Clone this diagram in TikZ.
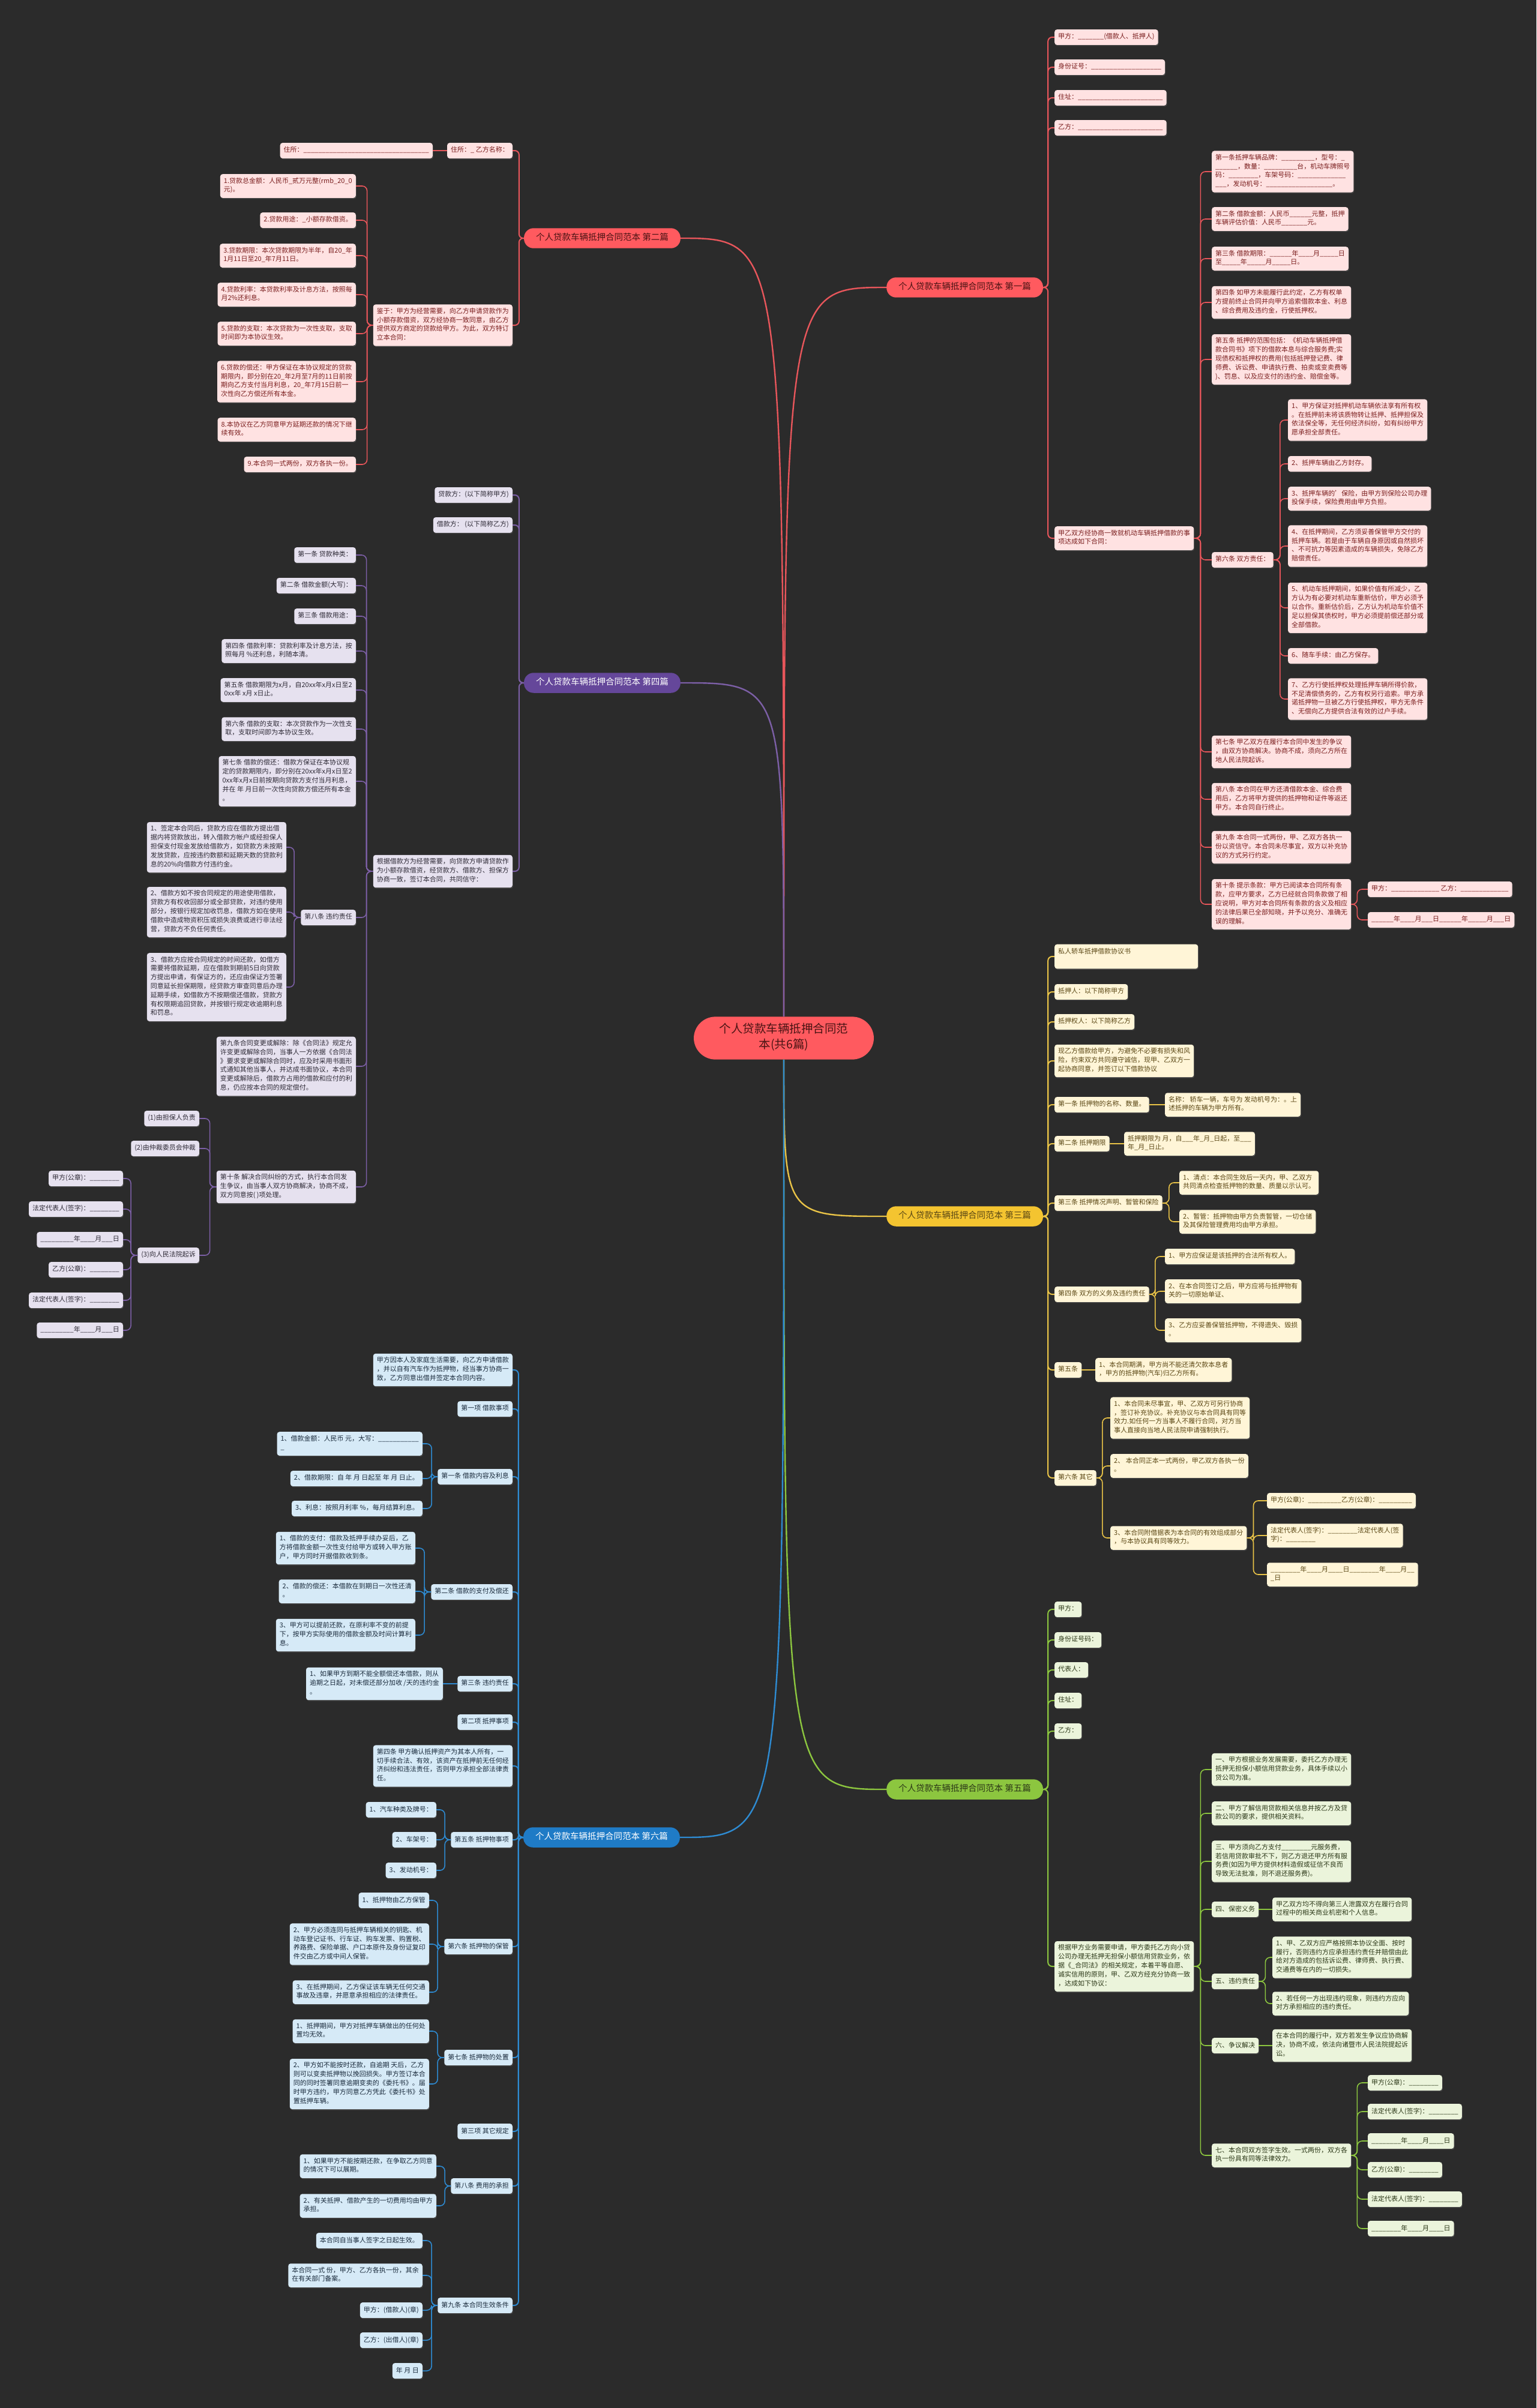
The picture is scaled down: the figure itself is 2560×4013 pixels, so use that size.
\documentclass[tikz,border=0pt]{standalone}
\usepackage{fontspec}
\setmainfont{Noto Sans CJK SC}
\usepackage{tikz}
\usetikzlibrary{shadows,calc}
\usepackage{xcolor}
\definecolor{canvas}{HTML}{2B2B2B}
\definecolor{headtext}{HTML}{4A1414}
\definecolor{rosefill}{HTML}{FFE2E2}
\definecolor{rosetext}{HTML}{7A1E1E}
\definecolor{roseline}{HTML}{E8565B}
\definecolor{rosehead}{HTML}{FF5A5F}
\definecolor{plumfill}{HTML}{E6E1EF}
\definecolor{plumtext}{HTML}{2E2A36}
\definecolor{plumline}{HTML}{7C5FA6}
\definecolor{plumhead}{HTML}{65479A}
\definecolor{amberfill}{HTML}{FFF5D7}
\definecolor{ambertext}{HTML}{5A4714}
\definecolor{amberline}{HTML}{E9C347}
\definecolor{amberhead}{HTML}{F4C430}
\definecolor{sagefill}{HTML}{EBF4DB}
\definecolor{sagetext}{HTML}{2C3818}
\definecolor{sageline}{HTML}{8CC63F}
\definecolor{sagehead}{HTML}{8CC63F}
\definecolor{skyfill}{HTML}{D6EAF7}
\definecolor{skytext}{HTML}{1A2B3C}
\definecolor{skyline}{HTML}{2E8BD2}
\definecolor{skyhead}{HTML}{1F7BC6}
\newcommand\blank[1]{\foreach\bi in {1,...,#1}{\_}}

\begin{document}
\begin{tikzpicture}[
  x=1pt, y=-1pt,
  box/.style={font=\fontsize{11}{14.8}\selectfont, align=left, rounded corners=4pt,
    inner xsep=6pt, inner ysep=5.5pt,
    execute at begin node=\strut, execute at end node=\strut,
    drop shadow={opacity=0.35, shadow xshift=1pt, shadow yshift=-1.5pt}},
  leaf/.style={box, fill=#1fill, text=#1text},
  head/.style={font=\fontsize{14.5}{17.4}\selectfont, rounded corners=16pt,
    inner xsep=20pt, inner ysep=8pt, fill=#1head,
    execute at begin node=\strut, execute at end node=\strut},
  lnk/.style={draw=#1line, line width=1.6pt, rounded corners=8pt},
  trunk/.style={draw=#1line, line width=2pt, rounded corners=7pt},
  stem/.style={draw=#1line, line width=2.4pt},
]
\useasboundingbox (0,0) rectangle (2560,4013);
\fill[canvas] (0,0) rectangle (2560,4013);

% Center
\node[head=rose, text=headtext, font=\fontsize{19.5}{26}\selectfont, align=center,
  rounded corners=36pt, minimum width=300pt, inner ysep=10.5pt] (ctr) at (1306,1730)
  {个人贷款车辆抵押合同范\\本(共6篇)};

% Part one
\node[head=rose, text=headtext, anchor=west] (b1) at (1477,479) {个人贷款车辆抵押合同范本 第一篇};
\node[leaf=rose, anchor=west] (r1) at (1757,62) {甲方：\blank{7}(借款人、抵押人)};
\node[leaf=rose, anchor=west] (r2) at (1757,112) {身份证号：\blank{19}};
\node[leaf=rose, anchor=west] (r3) at (1757,163) {住址：\blank{23}};
\node[leaf=rose, anchor=west] (r4) at (1757,213) {乙方：\blank{23}};
\node[leaf=rose, anchor=west] (r5) at (1757,897) {甲乙双方经协商一致就机动车辆抵押借款的事\\项达成如下合同：};
\node[leaf=rose, anchor=west] (r51) at (2019,286) {第一条抵押车辆品牌：\blank{9}，型号：\blank{1}\\\blank{6}，数量：\blank{9}台，机动车牌照号\\码：\blank{8}，车架号码：\blank{13}\\\blank{3}，发动机号：\blank{18}。};
\node[leaf=rose, anchor=west] (r52) at (2019,365) {第二条 借款金额：人民币\blank{6}元整，抵押\\车辆评估价值：人民币\blank{7}元。};
\node[leaf=rose, anchor=west] (r53) at (2019,431) {第三条 借款期限：\blank{6}年\blank{4}月\blank{5}日\\至\blank{5}年\blank{5}月\blank{5}日。};
\node[leaf=rose, anchor=west] (r54) at (2019,504) {第四条 如甲方未能履行此约定，乙方有权单\\方提前终止合同并向甲方追索借款本金、利息\\、综合费用及违约金，行使抵押权。};
\node[leaf=rose, anchor=west] (r55) at (2019,599) {第五条 抵押的范围包括：《机动车辆抵押借\\款合同书》项下的借款本息与综合服务费;实\\现债权和抵押权的费用(包括抵押登记费、律\\师费、诉讼费、申请执行费、拍卖或变卖费等\\)、罚息、以及应支付的违约金、赔偿金等。};
\node[leaf=rose, anchor=west] (r56) at (2019,933) {第六条 双方责任：};
\node[leaf=rose, anchor=west] (r57) at (2019,1253) {第七条 甲乙双方在履行本合同中发生的争议\\，由双方协商解决。协商不成，须向乙方所在\\地人民法院起诉。};
\node[leaf=rose, anchor=west] (r58) at (2019,1332) {第八条 本合同在甲方还清借款本金、综合费\\用后，乙方将甲方提供的抵押物和证件等返还\\甲方。本合同自行终止。};
\node[leaf=rose, anchor=west] (r59) at (2019,1412) {第九条 本合同一式两份，甲、乙双方各执一\\份以资信守。本合同未尽事宜，双方以补充协\\议的方式另行约定。};
\node[leaf=rose, anchor=west] (r510) at (2019,1507) {第十条 提示条款：甲方已阅读本合同所有条\\款，应甲方要求，乙方已经就合同条款做了相\\应说明，甲方对本合同所有条款的含义及相应\\的法律后果已全部知晓，并予以充分、准确无\\误的理解。};
\node[leaf=rose, anchor=west] (r561) at (2146,700) {1、甲方保证对抵押机动车辆依法享有所有权\\。在抵押前未将该质物转让抵押、抵押担保及\\依法保全等，无任何经济纠纷，如有纠纷甲方\\愿承担全部责任。};
\node[leaf=rose, anchor=west] (r562) at (2146,773) {2、抵押车辆由乙方封存。};
\node[leaf=rose, anchor=west] (r563) at (2146,831) {3、抵押车辆的'保险，由甲方到保险公司办理\\投保手续，保险费用由甲方负担。};
\node[leaf=rose, anchor=west] (r564) at (2146,910) {4、在抵押期间，乙方须妥善保管甲方交付的\\抵押车辆。若是由于车辆自身原因或自然损坏\\、不可抗力等因素造成的车辆损失，免除乙方\\赔偿责任。};
\node[leaf=rose, anchor=west] (r565) at (2146,1013) {5、机动车抵押期间，如果价值有所减少，乙\\方认为有必要对机动车重新估价，甲方必须予\\以合作。重新估价后，乙方认为机动车价值不\\足以担保其债权时，甲方必须提前偿还部分或\\全部借款。};
\node[leaf=rose, anchor=west] (r566) at (2146,1093) {6、随车手续：由乙方保存。};
\node[leaf=rose, anchor=west] (r567) at (2146,1165) {7、乙方行使抵押权处理抵押车辆所得价款，\\不足清偿债务的，乙方有权另行追索。甲方承\\诺抵押物一旦被乙方行使抵押权，甲方无条件\\、无偿向乙方提供合法有效的过户手续。};
\node[leaf=rose, anchor=west] (r5101) at (2279,1482) {甲方：\blank{13} 乙方：\blank{13}};
\node[leaf=rose, anchor=west] (r5102) at (2279,1533) {\blank{6}年\blank{4}月\blank{3}日\blank{6}年\blank{5}月\blank{3}日};

% Part two
\node[head=rose, text=headtext, anchor=east] (b2) at (1134,397) {个人贷款车辆抵押合同范本 第二篇};
\node[leaf=rose, anchor=east] (l1) at (854,251) {住所：\_ 乙方名称：};
\node[leaf=rose, anchor=east] (l11) at (721,251) {住所：\blank{34}};
\node[leaf=rose, anchor=east] (l2) at (854,542) {鉴于：甲方为经营需要，向乙方申请贷款作为\\小额存款借资，双方经协商一致同意，由乙方\\提供双方商定的贷款给甲方。为此，双方特订\\立本合同：};
\node[leaf=rose, anchor=east] (l21) at (593,310) {1.贷款总金额：人民币\_贰万元整(rmb\_20\_0\\元)。};
\node[leaf=rose, anchor=east] (l22) at (593,367) {2.贷款用途：\_小额存款借资。};
\node[leaf=rose, anchor=east] (l23) at (593,426) {3.贷款期限：本次贷款期限为半年，自20\_年\\1月11日至20\_年7月11日。};
\node[leaf=rose, anchor=east] (l24) at (593,491) {4.贷款利率：本贷款利率及计息方法，按照每\\月2\%还利息。};
\node[leaf=rose, anchor=east] (l25) at (593,556) {5.贷款的支取：本次贷款为一次性支取，支取\\时间即为本协议生效。};
\node[leaf=rose, anchor=east] (l26) at (593,636) {6.贷款的偿还：甲方保证在本协议规定的贷款\\期限内，即分别在20\_年2月至7月的11日前按\\期向乙方支付当月利息，20\_年7月15日前一\\次性向乙方偿还所有本金。};
\node[leaf=rose, anchor=east] (l27) at (593,716) {8.本协议在乙方同意甲方延期还款的情况下继\\续有效。};
\node[leaf=rose, anchor=east] (l28) at (593,774) {9.本合同一式两份，双方各执一份。};

% Part four
\node[head=plum, text=white, anchor=east] (b4) at (1134,1138) {个人贷款车辆抵押合同范本 第四篇};
\node[leaf=plum, anchor=east] (p1) at (854,825) {贷款方：(以下简称甲方)};
\node[leaf=plum, anchor=east] (p2) at (854,875) {借款方： (以下简称乙方)};
\node[leaf=plum, anchor=east] (p3) at (854,1452) {根据借款方为经营需要，向贷款方申请贷款作\\为小额存款借资，经贷款方、借款方、担保方\\协商一致，签订本合同，共同信守：};
\node[leaf=plum, anchor=east] (p31) at (593,925) {第一条 贷款种类：};
\node[leaf=plum, anchor=east] (p32) at (593,976) {第二条 借款金额(大写)：};
\node[leaf=plum, anchor=east] (p33) at (593,1027) {第三条 借款用途：};
\node[leaf=plum, anchor=east] (p34) at (593,1085) {第四条 借款利率：贷款利率及计息方法，按\\照每月 \%还利息，利随本清。};
\node[leaf=plum, anchor=east] (p35) at (593,1150) {第五条 借款期限为x月，自20xx年x月x日至2\\0xx年 x月 x日止。};
\node[leaf=plum, anchor=east] (p36) at (593,1215) {第六条 借款的支取：本次贷款作为一次性支\\取，支取时间即为本协议生效。};
\node[leaf=plum, anchor=east] (p37) at (593,1302) {第七条 借款的偿还：借款方保证在本协议规\\定的贷款期限内，即分别在20xx年x月x日至2\\0xx年x月x日前按期向贷款方支付当月利息，\\并在 年 月日前一次性向贷款方偿还所有本金\\。};
\node[leaf=plum, anchor=east] (p38) at (593,1529) {第八条 违约责任};
\node[leaf=plum, anchor=east] (p39) at (593,1777) {第九条合同变更或解除：除《合同法》规定允\\许变更或解除合同，当事人一方依据《合同法\\》要求变更或解除合同时，应及时采用书面形\\式通知其他当事人，并达成书面协议，本合同\\变更或解除后，借款方占用的借款和应付的利\\息，仍应按本合同的规定偿付。};
\node[leaf=plum, anchor=east] (p310) at (593,1978) {第十条 解决合同纠纷的方式，执行本合同发\\生争议，由当事人双方协商解决，协商不成，\\双方同意按( )项处理。};
\node[leaf=plum, anchor=east] (p381) at (477,1412) {1、签定本合同后，贷款方应在借款方提出借\\据内将贷款放出，转入借款方帐户或经担保人\\担保支付现金发放给借款方，如贷款方未按期\\发放贷款，应按违约数额和延期天数的贷款利\\息的20\%向借款方付违约金。};
\node[leaf=plum, anchor=east] (p382) at (477,1520) {2、借款方如不按合同规定的用途使用借款，\\贷款方有权收回部分或全部贷款，对违约使用\\部分，按银行规定加收罚息，借款方如在使用\\借款中造成物资积压或损失浪费或进行非法经\\营，贷款方不负任何责任。};
\node[leaf=plum, anchor=east] (p383) at (477,1645) {3、借款方应按合同规定的时间还款，如借方\\需要将借款延期，应在借款到期前5日向贷款\\方提出申请，有保证方的，还应由保证方签署\\同意延长担保期限，经贷款方审查同意后办理\\延期手续，如借款方不按期偿还借款，贷款方\\有权限期追回贷款，并按银行规定收逾期利息\\和罚息。};
\node[leaf=plum, anchor=east] (p3101) at (332,1864) {(1)由担保人负责};
\node[leaf=plum, anchor=east] (p3102) at (332,1914) {(2)由仲裁委员会仲裁};
\node[leaf=plum, anchor=east] (p3103) at (332,2092) {(3)向人民法院起诉};
\node[leaf=plum, anchor=east] (s1) at (205,1964) {甲方(公章)：\blank{8}};
\node[leaf=plum, anchor=east] (s2) at (205,2015) {法定代表人(签字)：\blank{8}};
\node[leaf=plum, anchor=east] (s3) at (205,2066) {\blank{9}年\blank{4}月\blank{3}日};
\node[leaf=plum, anchor=east] (s4) at (205,2116) {乙方(公章)：\blank{8}};
\node[leaf=plum, anchor=east] (s5) at (205,2167) {法定代表人(签字)：\blank{8}};
\node[leaf=plum, anchor=east] (s6) at (205,2217) {\blank{9}年\blank{4}月\blank{3}日};

% Part three
\node[head=amber, text=ambertext, anchor=west] (b3) at (1477,2027) {个人贷款车辆抵押合同范本 第三篇};
\node[leaf=amber, anchor=west, text width=227pt] (y1) at (1757,1594) {私人轿车抵押借款协议书\\\mbox{}};
\node[leaf=amber, anchor=west] (y2) at (1757,1653) {抵押人：以下简称甲方};
\node[leaf=amber, anchor=west] (y3) at (1757,1703) {抵押权人：以下简称乙方};
\node[leaf=amber, anchor=west] (y4) at (1757,1768) {现乙方借款给甲方，为避免不必要有损失和风\\险，约束双方共同遵守诚信，现甲、乙双方一\\起协商同意，并签订以下借款协议};
\node[leaf=amber, anchor=west] (y5) at (1757,1841) {第一条 抵押物的名称、数量。};
\node[leaf=amber, anchor=west] (y6) at (1757,1906) {第二条 抵押期限};
\node[leaf=amber, anchor=west] (y7) at (1757,2005) {第三条 抵押情况声明、暂管和保险};
\node[leaf=amber, anchor=west] (y8) at (1757,2157) {第四条 双方的义务及违约责任};
\node[leaf=amber, anchor=west] (y9) at (1757,2283) {第五条};
\node[leaf=amber, anchor=west] (y10) at (1757,2463) {第六条 其它};
\node[leaf=amber, anchor=west] (y51) at (1941,1841) {名称： 轿车一辆，车号为 发动机号为：。上\\述抵押的车辆为甲方所有。};
\node[leaf=amber, anchor=west] (y61) at (1873,1906) {抵押期限为 月，自\blank{3}年\_月\_日起，至\blank{3}\\年\_月\_日止。};
\node[leaf=amber, anchor=west] (y71) at (1965,1971) {1、清点：本合同生效后一天内，甲、乙双方\\共同清点检查抵押物的数量、质量以示认可。};
\node[leaf=amber, anchor=west] (y72) at (1965,2036) {2、暂管：抵押物由甲方负责暂管，一切仓储\\及其保险管理费用均由甲方承担。};
\node[leaf=amber, anchor=west] (y81) at (1941,2094) {1、甲方应保证是该抵押的合法所有权人。};
\node[leaf=amber, anchor=west] (y82) at (1941,2152) {2、在本合同签订之后，甲方应将与抵押物有\\关的一切原始单证、};
\node[leaf=amber, anchor=west] (y83) at (1941,2217) {3、乙方应妥善保管抵押物，不得遗失、毁损\\。};
\node[leaf=amber, anchor=west] (y91) at (1825,2283) {1、本合同期满，甲方尚不能还清欠款本息者\\，甲方的抵押物(汽车)归乙方所有。};
\node[leaf=amber, anchor=west] (y101) at (1850,2363) {1、本合同未尽事宜，甲、乙双方可另行协商\\，签订补充协议。补充协议与本合同具有同等\\效力.如任何一方当事人不履行合同，对方当\\事人直接向当地人民法院申请强制执行。};
\node[leaf=amber, anchor=west] (y102) at (1850,2443) {2、 本合同正本一式两份，甲乙双方各执一份\\。};
\node[leaf=amber, anchor=west] (y103) at (1850,2563) {3、本合同附借据表为本合同的有效组成部分\\，与本协议具有同等效力。};
\node[leaf=amber, anchor=west] (y1031) at (2111,2501) {甲方(公章)：\blank{9}乙方(公章)：\blank{9}};
\node[leaf=amber, anchor=west] (y1032) at (2111,2559) {法定代表人(签字)：\blank{8}法定代表人(签\\字)：\blank{8}};
\node[leaf=amber, anchor=west] (y1033) at (2111,2624) {\blank{8}年\blank{4}月\blank{4}日\blank{8}年\blank{4}月\blank{2}\\\_日};

% Part five
\node[head=sage, text=sagetext, anchor=west] (b5) at (1477,2982) {个人贷款车辆抵押合同范本 第五篇};
\node[leaf=sage, anchor=west] (g1) at (1757,2682) {甲方：};
\node[leaf=sage, anchor=west] (g2) at (1757,2733) {身份证号码：};
\node[leaf=sage, anchor=west] (g3) at (1757,2783) {代表人：};
\node[leaf=sage, anchor=west] (g4) at (1757,2834) {住址：};
\node[leaf=sage, anchor=west] (g5) at (1757,2885) {乙方：};
\node[leaf=sage, anchor=west] (g6) at (1757,3277) {根据甲方业务需要申请，甲方委托乙方向小贷\\公司办理无抵押无担保小额信用贷款业务，依\\据《\_合同法》的相关规定，本着平等自愿、\\诚实信用的原则，甲、乙双方经充分协商一致\\，达成如下协议：};
\node[leaf=sage, anchor=west] (g61) at (2019,2949) {一、甲方根据业务发展需要，委托乙方办理无\\抵押无担保小额信用贷款业务，具体手续以小\\贷公司为准。};
\node[leaf=sage, anchor=west] (g62) at (2019,3022) {二、甲方了解信用贷款相关信息并按乙方及贷\\款公司的要求，提供相关资料。};
\node[leaf=sage, anchor=west] (g63) at (2019,3102) {三、甲方须向乙方支付\blank{8}元服务费，\\若信用贷款审批不下，则乙方退还甲方所有服\\务费(如因为甲方提供材料造假或征信不良而\\导致无法批准，则不退还服务费)。};
\node[leaf=sage, anchor=west] (g64) at (2019,3182) {四、保密义务};
\node[leaf=sage, anchor=west] (g65) at (2019,3302) {五、违约责任};
\node[leaf=sage, anchor=west] (g66) at (2019,3409) {六、争议解决};
\node[leaf=sage, anchor=west] (g67) at (2019,3592) {七、本合同双方签字生效。一式两份，双方各\\执一份具有同等法律效力。};
\node[leaf=sage, anchor=west] (g641) at (2120,3182) {甲乙双方均不得向第三人泄露双方在履行合同\\过程中的相关商业机密和个人信息。};
\node[leaf=sage, anchor=west] (g651) at (2120,3262) {1、甲、乙双方应严格按照本协议全面、按时\\履行，否则违约方应承担违约责任并赔偿由此\\给对方造成的包括诉讼费、律师费、执行费、\\交通费等在内的一切损失。};
\node[leaf=sage, anchor=west] (g652) at (2120,3339) {2、若任何一方出现违约现象，则违约方应向\\对方承担相应的违约责任。};
\node[leaf=sage, anchor=west] (g661) at (2120,3409) {在本合同的履行中，双方若发生争议应协商解\\决，协商不成，依法向诸暨市人民法院提起诉\\讼。};
\node[leaf=sage, anchor=west] (g671) at (2279,3471) {甲方(公章)：\blank{8}};
\node[leaf=sage, anchor=west] (g672) at (2279,3519) {法定代表人(签字)：\blank{8}};
\node[leaf=sage, anchor=west] (g673) at (2279,3568) {\blank{8}年\blank{4}月\blank{4}日};
\node[leaf=sage, anchor=west] (g674) at (2279,3616) {乙方(公章)：\blank{8}};
\node[leaf=sage, anchor=west] (g675) at (2279,3665) {法定代表人(签字)：\blank{8}};
\node[leaf=sage, anchor=west] (g676) at (2279,3714) {\blank{8}年\blank{4}月\blank{4}日};

% Part six
\node[head=sky, text=white, anchor=east] (b6) at (1133,3062) {个人贷款车辆抵押合同范本 第六篇};
\node[leaf=sky, anchor=east] (c1) at (854,2283) {甲方因本人及家庭生活需要，向乙方申请借款\\，并以自有汽车作为抵押物，经当事方协商一\\致，乙方同意出借并签定本合同内容。};
\node[leaf=sky, anchor=east] (c2) at (854,2348) {第一项 借款事项};
\node[leaf=sky, anchor=east] (c3) at (854,2461) {第一条 借款内容及利息};
\node[leaf=sky, anchor=east] (c4) at (854,2653) {第二条 借款的支付及偿还};
\node[leaf=sky, anchor=east] (c5) at (854,2806) {第三条 违约责任};
\node[leaf=sky, anchor=east] (c6) at (854,2870) {第二项 抵押事项};
\node[leaf=sky, anchor=east] (c7) at (854,2943) {第四条 甲方确认抵押资产为其本人所有，一\\切手续合法、有效，该资产在抵押前无任何经\\济纠纷和违法责任，否则甲方承担全部法律责\\任。};
\node[leaf=sky, anchor=east] (c8) at (854,3066) {第五条 抵押物事项};
\node[leaf=sky, anchor=east] (c9) at (854,3244) {第六条 抵押物的保管};
\node[leaf=sky, anchor=east] (c10) at (854,3429) {第七条 抵押物的处置};
\node[leaf=sky, anchor=east] (c11) at (854,3552) {第三项 其它规定};
\node[leaf=sky, anchor=east] (c12) at (854,3643) {第八条 费用的承担};
\node[leaf=sky, anchor=east] (c13) at (854,3842) {第九条 本合同生效条件};
\node[leaf=sky, anchor=east] (c31) at (704,2406) {1、借款金额：人民币 元，大写：\blank{11}\\\_};
\node[leaf=sky, anchor=east] (c32) at (704,2464) {2、借款期限：自 年 月 日起至 年 月 日止。};
\node[leaf=sky, anchor=east] (c33) at (704,2514) {3、利息：按照月利率 \%，每月结算利息。};
\node[leaf=sky, anchor=east] (c41) at (692,2580) {1、借款的支付：借款及抵押手续办妥后，乙\\方将借款金额一次性支付给甲方或转入甲方账\\户，甲方同时开据借款收到条。};
\node[leaf=sky, anchor=east] (c42) at (692,2652) {2、借款的偿还：本借款在到期日一次性还清\\。};
\node[leaf=sky, anchor=east] (c43) at (692,2725) {3、甲方可以提前还款，在原利率不变的前提\\下，按甲方实际使用的借款金额及时间计算利\\息。};
\node[leaf=sky, anchor=east] (c51) at (738,2806) {1、如果甲方到期不能全额偿还本借款，则从\\逾期之日起，对未偿还部分加收 /天的违约金\\。};
\node[leaf=sky, anchor=east] (c81) at (727,3016) {1、汽车种类及牌号：};
\node[leaf=sky, anchor=east] (c82) at (727,3066) {2、车架号：};
\node[leaf=sky, anchor=east] (c83) at (727,3117) {3、发动机号：};
\node[leaf=sky, anchor=east] (c91) at (715,3167) {1、抵押物由乙方保管};
\node[leaf=sky, anchor=east] (c92) at (715,3240) {2、甲方必须连同与抵押车辆相关的钥匙、机\\动车登记证书、行车证、购车发票、购置税、\\养路费、保险单据、户口本原件及身份证复印\\件交由乙方或中间人保管。};
\node[leaf=sky, anchor=east] (c93) at (715,3320) {3、在抵押期间，乙方保证该车辆无任何交通\\事故及违章，并愿意承担相应的法律责任。};
\node[leaf=sky, anchor=east] (c101) at (715,3385) {1、抵押期间，甲方对抵押车辆做出的任何处\\置均无效。};
\node[leaf=sky, anchor=east] (c102) at (715,3473) {2、甲方如不能按时还款，自逾期 天后，乙方\\则可以变卖抵押物以挽回损失。甲方签订本合\\同的同时签署同意逾期变卖的《委托书》。届\\时甲方违约，甲方同意乙方凭此《委托书》处\\置抵押车辆。};
\node[leaf=sky, anchor=east] (c121) at (727,3610) {1、如果甲方不能按期还款，在争取乙方同意\\的情况下可以展期。};
\node[leaf=sky, anchor=east] (c122) at (727,3676) {2、有关抵押、借款产生的一切费用均由甲方\\承担。};
\node[leaf=sky, anchor=east] (c131) at (704,3734) {本合同自当事人签字之日起生效。};
\node[leaf=sky, anchor=east] (c132) at (704,3792) {本合同一式 份，甲方、乙方各执一份，其余\\在有关部门备案。};
\node[leaf=sky, anchor=east] (c133) at (704,3850) {甲方：(借款人)(章)};
\node[leaf=sky, anchor=east] (c134) at (704,3900) {乙方：(出借人)(章)};
\node[leaf=sky, anchor=east] (c135) at (704,3951) {年 月 日};

% Center to parts
\draw[stem=rose] (ctr.north) .. controls (ctr.north |- b1.west) .. (b1.west);
\draw[stem=rose] (ctr.north) .. controls (ctr.north |- b2.east) .. (b2.east);
\draw[stem=plum] (ctr.north) .. controls (ctr.north |- b4.east) .. (b4.east);
\draw[stem=amber] (ctr.south) .. controls (ctr.south |- b3.west) .. (b3.west);
\draw[stem=sage] (ctr.south) .. controls (ctr.south |- b5.west) .. (b5.west);
\draw[stem=sky] (ctr.south) .. controls (ctr.south |- b6.east) .. (b6.east);

% Part one links
\foreach \c in {r1,r2,r3,r4,r5}
  \draw[trunk=rose] (b1.east) -- ++(8,0) |- (\c.west);
\foreach \c in {r51,r52,r53,r54,r55,r56,r57,r58,r59,r510}
  \draw[lnk=rose] (r5.east) -- ++(11,0) |- (\c.west);
\foreach \c in {r561,r562,r563,r564,r565,r566,r567}
  \draw[lnk=rose] (r56.east) -- ++(11,0) |- (\c.west);
\foreach \c in {r5101,r5102}
  \draw[lnk=rose] (r510.east) -- ++(10,0) |- (\c.west);

% Part two links
\foreach \c in {l1,l2}
  \draw[trunk=rose] (b2.west) -- ++(-8,0) |- (\c.east);
\draw[lnk=rose] (l1.west) -- (l11.east);
\foreach \c in {l21,l22,l23,l24,l25,l26,l27,l28}
  \draw[lnk=rose] (l2.west) -- ++(-10,0) |- (\c.east);

% Part four links
\foreach \c in {p1,p2,p3}
  \draw[trunk=plum] (b4.west) -- ++(-8,0) |- (\c.east);
\foreach \c in {p31,p32,p33,p34,p35,p36,p37,p38,p39,p310}
  \draw[lnk=plum] (p3.west) -- ++(-11,0) |- (\c.east);
\foreach \c in {p381,p382,p383}
  \draw[lnk=plum] (p38.west) -- ++(-11,0) |- (\c.east);
\foreach \c in {p3101,p3102,p3103}
  \draw[lnk=plum] (p310.west) -- ++(-11,0) |- (\c.east);
\foreach \c in {s1,s2,s3,s4,s5,s6}
  \draw[lnk=plum] (p3103.west) -- ++(-11,0) |- (\c.east);

% Part three links
\foreach \c in {y1,y2,y3,y4,y5,y6,y7,y8,y9,y10}
  \draw[trunk=amber] (b3.east) -- ++(8,0) |- (\c.west);
\draw[lnk=amber] (y5.east) -- (y51.west);
\draw[lnk=amber] (y6.east) -- (y61.west);
\foreach \c in {y71,y72}
  \draw[lnk=amber] (y7.east) -- ++(11,0) |- (\c.west);
\foreach \c in {y81,y82,y83}
  \draw[lnk=amber] (y8.east) -- ++(10,0) |- (\c.west);
\draw[lnk=amber] (y9.east) -- (y91.west);
\foreach \c in {y101,y102,y103}
  \draw[lnk=amber] (y10.east) -- ++(10,0) |- (\c.west);
\foreach \c in {y1031,y1032,y1033}
  \draw[lnk=amber] (y103.east) -- ++(11,0) |- (\c.west);

% Part five links
\foreach \c in {g1,g2,g3,g4,g5,g6}
  \draw[trunk=sage] (b5.east) -- ++(8,0) |- (\c.west);
\foreach \c in {g61,g62,g63,g64,g65,g66,g67}
  \draw[lnk=sage] (g6.east) -- ++(11,0) |- (\c.west);
\draw[lnk=sage] (g64.east) -- (g641.west);
\foreach \c in {g651,g652}
  \draw[lnk=sage] (g65.east) -- ++(11,0) |- (\c.west);
\draw[lnk=sage] (g66.east) -- (g661.west);
\foreach \c in {g671,g672,g673,g674,g675,g676}
  \draw[lnk=sage] (g67.east) -- ++(10,0) |- (\c.west);

% Part six links
\foreach \c in {c1,c2,c3,c4,c5,c6,c7,c8,c9,c10,c11,c12,c13}
  \draw[trunk=sky] (b6.west) -- ++(-8,0) |- (\c.east);
\foreach \c in {c31,c32,c33}
  \draw[lnk=sky] (c3.west) -- ++(-10,0) |- (\c.east);
\foreach \c in {c41,c42,c43}
  \draw[lnk=sky] (c4.west) -- ++(-11,0) |- (\c.east);
\draw[lnk=sky] (c5.west) -- (c51.east);
\foreach \c in {c81,c82,c83}
  \draw[lnk=sky] (c8.west) -- ++(-10,0) |- (\c.east);
\foreach \c in {c91,c92,c93}
  \draw[lnk=sky] (c9.west) -- ++(-11,0) |- (\c.east);
\foreach \c in {c101,c102}
  \draw[lnk=sky] (c10.west) -- ++(-11,0) |- (\c.east);
\foreach \c in {c121,c122}
  \draw[lnk=sky] (c12.west) -- ++(-10,0) |- (\c.east);
\foreach \c in {c131,c132,c133,c134,c135}
  \draw[lnk=sky] (c13.west) -- ++(-10,0) |- (\c.east);
\end{tikzpicture}
\end{document}
